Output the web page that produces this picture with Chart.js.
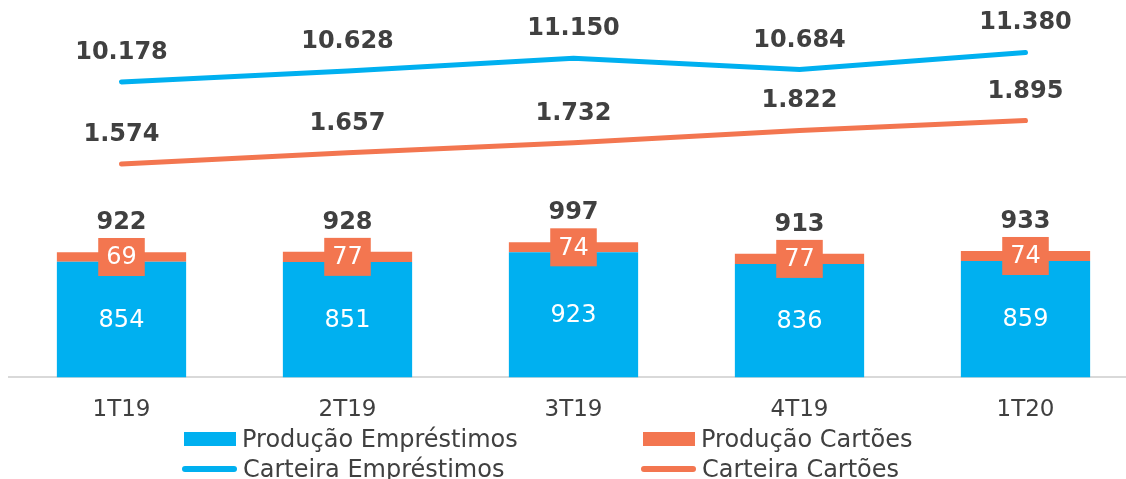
<!DOCTYPE html>
<html lang="pt-BR">
<head>
<meta charset="utf-8">
<title>Produção e Carteira</title>
<script src="https://cdn.jsdelivr.net/npm/chart.js@4.4.1/dist/chart.umd.min.js"></script>
<style>
  html, body { margin: 0; padding: 0; background: #fff; overflow: hidden; }
  #wrap { position: relative; width: 1126px; height: 479px; overflow: hidden; }
  #grafico { position: absolute; left: 0; top: 0; }
  #legenda {
    position: absolute; left: 182px; top: 425px;
    display: grid; grid-template-columns: 459px 320px; row-gap: 2px;
    font-family: "DejaVu Sans", Verdana, sans-serif; font-size: 24px; color: #404040;
  }
  .item { display: flex; align-items: center; height: 28px; white-space: nowrap; }
  .caixa { width: 52px; height: 14px; margin: 0 6px 0 2px; }
  .linha { width: 55px; height: 6px; border-radius: 3px; margin-right: 6px; }
</style>
</head>
<body>
<div id="wrap">
  <canvas id="grafico" width="1140" height="479"></canvas>
  <div id="legenda"></div>
</div>
<script>
// dados
const trimestres = ["1T19", "2T19", "3T19", "4T19", "1T20"];
const producaoEmprestimos = [854, 851, 923, 836, 859];
const producaoCartoes = [69, 77, 74, 77, 74];
const totalProducao = [922, 928, 997, 913, 933];
const carteiraEmprestimos = [10178, 10628, 11150, 10684, 11380];
const carteiraCartoes = [1574, 1657, 1732, 1822, 1895];

const AZUL = "#00B0F0";
const LARANJA = "#F37650";
const TEXTO = "#404040";
const FONTE = "'DejaVu Sans', Verdana, sans-serif";

function milhar(n) {
  return String(n).replace(/\B(?=(\d{3})+(?!\d))/g, ".");
}

// rótulos das barras e das linhas
const rotulos = {
  id: "rotulos",
  afterDatasetsDraw(chart) {
    const ctx = chart.ctx;
    ctx.save();
    ctx.textAlign = "center";

    chart.getDatasetMeta(0).data.forEach((bar, i) => {
      ctx.font = "24px " + FONTE;
      ctx.fillStyle = "#fff";
      ctx.textBaseline = "middle";
      ctx.fillText(producaoEmprestimos[i], bar.x, (bar.y + bar.base) / 2 + 1);
    });

    chart.getDatasetMeta(1).data.forEach((bar, i) => {
      const txt = String(producaoCartoes[i]);
      ctx.font = "24px " + FONTE;
      ctx.textBaseline = "middle";
      const w = ctx.measureText(txt).width + 16;
      const meio = (bar.y + bar.base) / 2;
      ctx.fillStyle = LARANJA;
      ctx.fillRect(bar.x - w / 2, meio - 19, w, 38);
      ctx.fillStyle = "#fff";
      ctx.fillText(txt, bar.x, meio + 1);

      // total acima da pilha
      ctx.font = "bold 24px " + FONTE;
      ctx.fillStyle = TEXTO;
      ctx.textBaseline = "alphabetic";
      ctx.fillText(totalProducao[i], bar.x, bar.y - 23);
    });

    ctx.font = "bold 24px " + FONTE;
    ctx.fillStyle = TEXTO;
    ctx.textBaseline = "alphabetic";
    [2, 3].forEach(d => {
      const valores = chart.data.datasets[d].data;
      chart.getDatasetMeta(d).data.forEach((pt, i) => {
        ctx.fillText(milhar(valores[i]), pt.x, pt.y - 23);
      });
    });
    ctx.restore();
  }
};

const grafico = new Chart(document.getElementById("grafico"), {
  type: "bar",
  data: {
    labels: trimestres,
    datasets: [
      {
        label: "Produção Empréstimos",
        data: producaoEmprestimos,
        backgroundColor: AZUL,
        stack: "producao",
        categoryPercentage: 1,
        barPercentage: 0.572
      },
      {
        label: "Produção Cartões",
        data: producaoCartoes,
        backgroundColor: LARANJA,
        stack: "producao",
        categoryPercentage: 1,
        barPercentage: 0.572
      },
      {
        type: "line",
        label: "Carteira Empréstimos",
        data: carteiraEmprestimos,
        borderColor: AZUL,
        backgroundColor: AZUL,
        borderWidth: 5,
        borderCapStyle: "round",
        pointRadius: 0,
        fill: false,
        yAxisID: "y2"
      },
      {
        type: "line",
        label: "Carteira Cartões",
        data: carteiraCartoes,
        borderColor: LARANJA,
        backgroundColor: LARANJA,
        borderWidth: 5,
        borderCapStyle: "round",
        pointRadius: 0,
        fill: false,
        stack: "cartoes",
        yAxisID: "y"
      }
    ]
  },
  options: {
    responsive: false,
    animation: false,
    layout: { padding: { left: 8.5, right: 1.5, top: 0, bottom: 36 } },
    plugins: {
      legend: { display: false },
      tooltip: { enabled: false }
    },
    scales: {
      x: {
        stacked: true,
        offset: true,
        grid: { display: false, drawTicks: false },
        border: { display: true, color: "#D9D9D9", width: 2 },
        ticks: { color: TEXTO, padding: 19, font: { family: FONTE, size: 23 } }
      },
      y: { stacked: true, display: false, min: 0, max: 2785 },
      y2: { display: false, position: "right", min: -1854, max: 13518 }
    }
  },
  plugins: [rotulos]
});

// legenda em duas colunas
const legenda = document.getElementById("legenda");
const ordem = [0, 1, 2, 3];
ordem.forEach(i => {
  const ds = grafico.data.datasets[i];
  const item = document.createElement("div");
  item.className = "item";
  const marca = document.createElement("span");
  marca.className = ds.type === "line" ? "linha" : "caixa";
  marca.style.background = ds.type === "line" ? ds.borderColor : ds.backgroundColor;
  item.appendChild(marca);
  const txt = document.createElement("span");
  txt.textContent = ds.label;
  item.appendChild(txt);
  legenda.appendChild(item);
});
</script>
</body>
</html>
